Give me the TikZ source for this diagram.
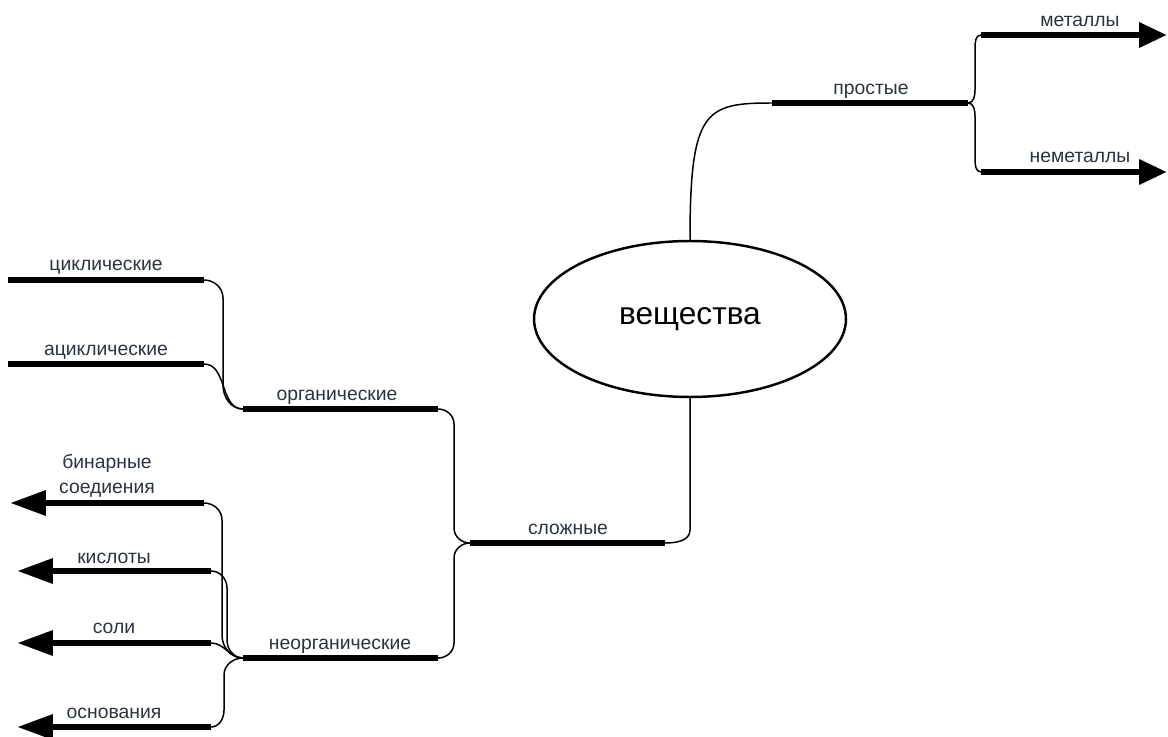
\documentclass[tikz,border=0pt]{standalone}
\usepackage{fontspec}
\setmainfont{Liberation Sans}
\usetikzlibrary{arrows.meta,shapes.geometric,positioning}
\definecolor{labelgray}{HTML}{2A3340}
\tikzset{
	bar/.style={line width=0.13cm},
	arrowbar/.style={bar,-{Triangle[length=0.72cm,width=0.48cm]}},
	arrowshort/.style={bar,-{Triangle[length=0.56cm,width=0.48cm]}},
	link/.style={line width=0.85pt},
	lbl/.style={text=labelgray,font=\fontsize{11}{14}\selectfont,inner sep=0pt,anchor=base},
}
\begin{document}
\begin{tikzpicture}[x=0.02cm,y=-0.02cm]
	\useasboundingbox (0,0) rectangle (1168,736);
	% central ellipse
	\node[ellipse,draw,line width=1.4pt,minimum width=6.24cm,minimum height=3.12cm,
		font=\fontsize{18}{20}\selectfont] (vesh) at (690,319) {вещества};
	% bar end points
	\coordinate (prS) at (772,103);  \coordinate (prE) at (968,103);
	\coordinate (meS) at (981,35);   \coordinate (meT) at (1167,35);
	\coordinate (nmS) at (981,172);  \coordinate (nmT) at (1167,172);
	\coordinate (slS) at (470,543);  \coordinate (slE) at (665,543);
	\coordinate (orS) at (243,409);  \coordinate (orE) at (438,409);
	\coordinate (noS) at (243,658);  \coordinate (noE) at (438,658);
	\coordinate (ciS) at (8,280);    \coordinate (ciE) at (204,280);
	\coordinate (acS) at (8,364);    \coordinate (acE) at (204,364);
	\coordinate (biT) at (10,503);   \coordinate (biE) at (204,503);
	\coordinate (kiT) at (17,571);   \coordinate (kiE) at (211,571);
	\coordinate (soT) at (17,643);   \coordinate (soE) at (211,643);
	\coordinate (osT) at (17,727);   \coordinate (osE) at (211,727);
	% thick bars
	\draw [bar] (prS) -- (prE);
	\draw [bar] (slS) -- (slE);
	\draw [bar] (orS) -- (orE);
	\draw [bar] (noS) -- (noE);
	\draw [bar] (ciS) -- (ciE);
	\draw [bar] (acS) -- (acE);
	% bars with arrow tips
	\draw [arrowshort] (meS) -- (meT);
	\draw [arrowshort] (nmS) -- (nmT);
	\draw [arrowbar] (biE) -- (biT);
	\draw [arrowbar] (kiE) -- (kiT);
	\draw [arrowbar] (soE) -- (soT);
	\draw [arrowbar] (osE) -- (osT);
	% thin links between bars
	\draw [link] (vesh.north) .. controls (690,110) and (705,103) .. (prS);
	\draw [link] (vesh.south) -- (690,530) to[out=-90,in=0] (slE);
	\draw [link] (prE) to[out=0,in=-90] (975,90) -- (975,48) to[out=90,in=180] (meS);
	\draw [link] (prE) to[out=0,in=90] (975,116) -- (975,159) to[out=-90,in=180] (nmS);
	\draw [link] (slS) to[out=180,in=-90] (454,528) -- (454,424) to[out=90,in=0] (orE);
	\draw [link] (slS) to[out=180,in=90] (454,558) -- (454,643) to[out=-90,in=0] (noE);
	\draw [link] (ciE) to[out=0,in=90] (223,298) -- (223,385) to[out=-90,in=180] (orS);
	\draw [link] (acE) to[out=0,in=180] (orS);
	\draw [link] (biE) to[out=0,in=90] (222,520) -- (222,635) to[out=-90,in=180] (noS);
	\draw [link] (kiE) to[out=0,in=90] (227,588) -- (227,640) to[out=-90,in=180] (noS);
	\draw [link] (soE) to[out=0,in=180] (noS);
	\draw [link] (osE) to[out=0,in=-90] (224,710) -- (224,675) to[out=90,in=180] (noS);
	% labels
	\node[lbl] (prL) at (871,95) {простые};
	\node[lbl] (meL) at (1080,27) {металлы};
	\node[lbl] (nmL) at (1080,163) {неметаллы};
	\node[lbl] (slL) at (568,534) {сложные};
	\node[lbl] (orL) at (337,400) {органические};
	\node[lbl] (noL) at (340,649) {неорганические};
	\node[lbl] (ciL) at (106,271) {циклические};
	\node[lbl] (acL) at (106,355) {ациклические};
	\node[lbl,align=center] (biL) at (107,493) {бинарные\\соедиения};
	\node[lbl] (kiL) at (114,563) {кислоты};
	\node[lbl] (soL) at (114,633) {соли};
	\node[lbl] (osL) at (114,718) {основания};
\end{tikzpicture}
\end{document}
